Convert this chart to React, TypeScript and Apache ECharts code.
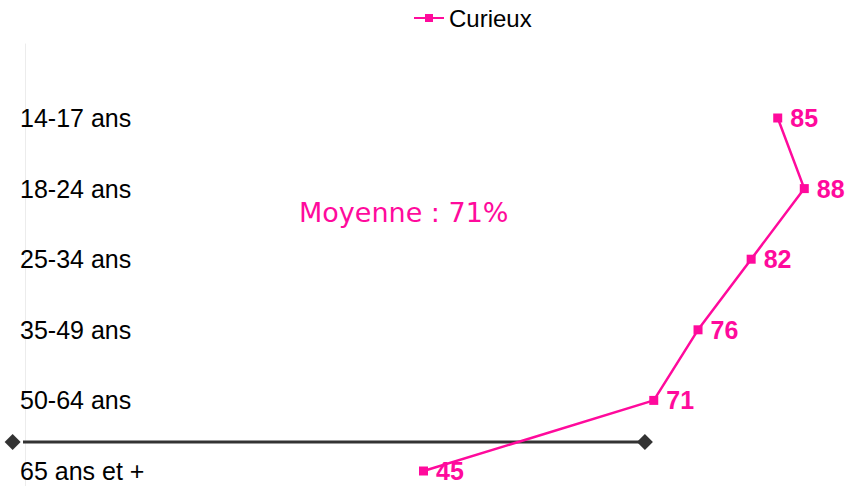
import React, { useEffect, useRef } from "react";
import * as echarts from "echarts";

const categories = ["14-17 ans", "18-24 ans", "25-34 ans", "35-49 ans", "50-64 ans", "65 ans et +"];
const curieux = [85, 88, 82, 76, 71, 45];
const seriesName = "Curieux";
const averageText = "Moyenne : 71%";
// reference line (x from, x to) at a position between the last two age groups
const refLineX = [-1.4, 70];
const refLineY = 4.59;

const PINK = "#ff0a9c";

export default function App() {
  const ref = useRef<HTMLDivElement>(null);
  useEffect(() => {
    if (!ref.current) return;
    const chart = echarts.init(ref.current, null, { renderer: "svg" });
    chart.setOption({
      animation: false,
      textStyle: { fontFamily: "Liberation Sans, Arial, sans-serif" },
      legend: {
        data: [seriesName],
        left: 408,
        top: 1,
        itemWidth: 30,
        itemHeight: 10,
        textStyle: { fontSize: 24, color: "#000", fontFamily: "Liberation Sans, Arial, sans-serif" },
      },
      grid: [
        { left: 25, right: 24, top: 118, bottom: 15 },
        { left: 25, right: 24, top: 44, bottom: 0 },
      ],
      xAxis: [
        { type: "value", gridIndex: 0, min: 0, max: 90, show: false },
        { type: "value", gridIndex: 1, min: 0, max: 90, show: false },
      ],
      yAxis: [
        {
          type: "category",
          gridIndex: 0,
          data: categories,
          inverse: true,
          boundaryGap: false,
          axisLine: { show: false },
          axisTick: { show: false },
          splitLine: { show: false },
          axisLabel: {
            align: "left",
            margin: 5,
            fontSize: 25,
            color: "#000",
            fontFamily: "Liberation Sans, Arial, sans-serif",
          },
        },
        {
          type: "value",
          gridIndex: 1,
          inverse: true,
          min: -1.048,
          max: 5.212,
          axisLine: { show: true, onZero: false, lineStyle: { color: "#ececec", width: 1 } },
          axisTick: { show: false },
          axisLabel: { show: false },
          splitLine: { show: false },
        },
      ],
      graphic: [
        {
          type: "text",
          left: 299,
          top: 199,
          style: {
            text: averageText,
            fill: PINK,
            fontSize: 27,
            fontFamily: "DejaVu Sans, Verdana, sans-serif",
          },
        },
      ],
      series: [
        {
          name: "ref",
          type: "line",
          xAxisIndex: 1,
          yAxisIndex: 1,
          clip: false,
          data: refLineX.map((x) => [x, refLineY]),
          symbol: "diamond",
          symbolSize: 16,
          lineStyle: { color: "#333", width: 3 },
          itemStyle: { color: "#333" },
          z: 1,
        },
        {
          name: seriesName,
          type: "line",
          xAxisIndex: 0,
          yAxisIndex: 0,
          clip: false,
          data: curieux.map((v, i) => [v, categories[i]]),
          symbol: "rect",
          symbolSize: 9,
          lineStyle: { color: PINK, width: 2.5 },
          itemStyle: { color: PINK },
          label: {
            show: true,
            position: "right",
            distance: 8,
            color: PINK,
            fontWeight: "bold",
            fontSize: 25,
            fontFamily: "Liberation Sans, Arial, sans-serif",
          },
          z: 3,
        },
      ],
    });
    return () => chart.dispose();
  }, []);
  return <div ref={ref} style={{ width: 846, height: 486, position: "absolute", left: 0, top: 0 }} />;
}
